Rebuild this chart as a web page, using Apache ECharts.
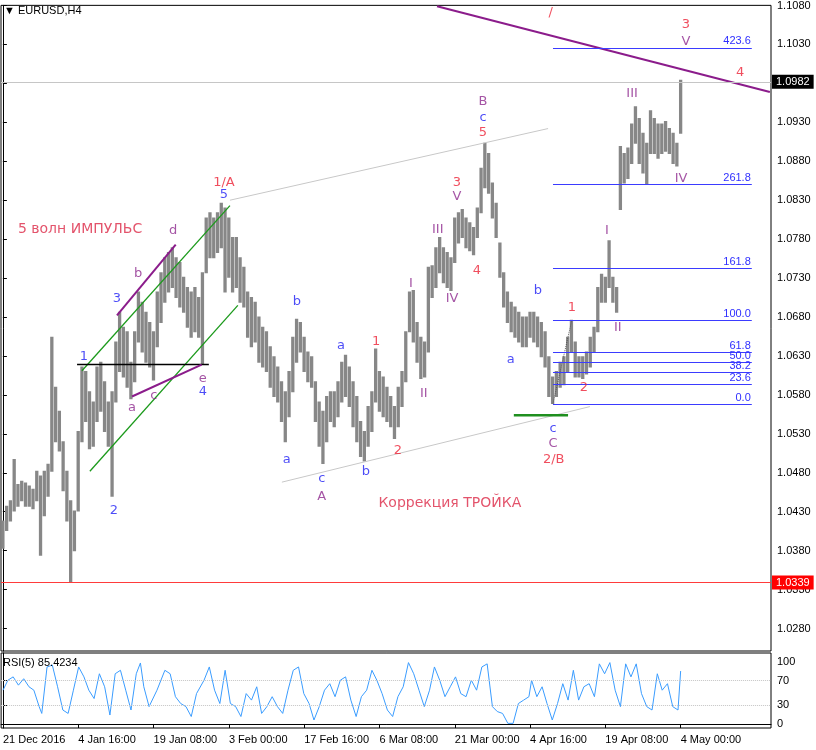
<!DOCTYPE html>
<html><head><meta charset="utf-8">
<script src="https://cdn.jsdelivr.net/npm/echarts@6/dist/echarts.min.js"></script>
<style>html,body{margin:0;padding:0;background:#fff}#c{width:816px;height:750px}</style>
</head><body><div id="c"></div>
<script>
// ---- price bars (H4, sampled), index = bar position ----
const barHigh=[1.0418,1.0437,1.0444,1.0497,1.0465,1.0469,1.0467,1.0463,1.0459,1.0482,
1.0476,1.0482,1.0491,1.0654,1.0590,1.0559,1.0520,1.0482,1.0444,1.0431,
1.0533,1.0616,1.0610,1.0584,1.0571,1.0616,1.0622,1.0597,1.0571,1.0584,
1.0648,1.0686,1.0667,1.0661,1.0622,1.0661,1.0712,1.0699,1.0686,1.0673,
1.0661,1.0712,1.0737,1.0756,1.0763,1.0769,1.0756,1.0750,1.0731,1.0718,
1.0712,1.0718,1.0705,1.0737,1.0807,1.0814,1.0807,1.0814,1.0826,1.0820,
1.0807,1.0782,1.0782,1.0756,1.0744,1.0712,1.0705,1.0699,1.0680,1.0667,
1.0661,1.0642,1.0629,1.0616,1.0597,1.0584,1.0610,1.0654,1.0677,1.0673,
1.0654,1.0635,1.0629,1.0597,1.0571,1.0559,1.0578,1.0584,1.0584,1.0597,
1.0622,1.0631,1.0616,1.0597,1.0578,1.0546,1.0533,1.0565,1.0584,1.0639,
1.0610,1.0603,1.0590,1.0578,1.0565,1.0590,1.0610,1.0661,1.0712,1.0714,
1.0673,1.0654,1.0648,1.0744,1.0746,1.0769,1.0782,1.0769,1.0763,1.0756,
1.0807,1.0814,1.0818,1.0807,1.0801,1.0795,1.0820,1.0871,1.0903,1.0890,
1.0852,1.0826,1.0775,1.0737,1.0712,1.0699,1.0693,1.0686,1.0680,1.0680,
1.0686,1.0686,1.0680,1.0673,1.0661,1.0629,1.0603,1.0610,1.0622,1.0629,
1.0654,1.0676,1.0648,1.0629,1.0629,1.0635,1.0654,1.0667,1.0718,1.0735,
1.0731,1.0778,1.0731,1.0718,1.0899,1.0890,1.0897,1.0928,1.0950,1.0935,
1.0916,1.0903,1.0945,1.0935,1.0928,1.0928,1.0931,1.0922,1.0916,1.0903,
1.0984];
const barLow=[1.0383,1.0406,1.0418,1.0431,1.0437,1.0444,1.0437,1.0437,1.0434,1.0444,
1.0374,1.0425,1.0450,1.0482,1.0520,1.0508,1.0457,1.0418,1.0339,1.0380,
1.0431,1.0520,1.0546,1.0511,1.0514,1.0546,1.0559,1.0533,1.0514,1.0450,
1.0571,1.0610,1.0603,1.0590,1.0575,1.0597,1.0648,1.0635,1.0622,1.0616,
1.0599,1.0642,1.0673,1.0699,1.0712,1.0718,1.0705,1.0693,1.0686,1.0667,
1.0654,1.0661,1.0654,1.0619,1.0737,1.0756,1.0756,1.0763,1.0769,1.0712,
1.0731,1.0712,1.0718,1.0699,1.0693,1.0654,1.0642,1.0648,1.0622,1.0616,
1.0610,1.0590,1.0578,1.0571,1.0546,1.0520,1.0552,1.0584,1.0622,1.0635,
1.0610,1.0597,1.0590,1.0546,1.0514,1.0492,1.0520,1.0546,1.0539,1.0552,
1.0571,1.0578,1.0565,1.0539,1.0520,1.0501,1.0495,1.0514,1.0533,1.0571,
1.0559,1.0552,1.0546,1.0539,1.0524,1.0539,1.0565,1.0597,1.0661,1.0648,
1.0622,1.0601,1.0603,1.0635,1.0705,1.0718,1.0737,1.0724,1.0718,1.0714,
1.0750,1.0775,1.0782,1.0769,1.0765,1.0760,1.0782,1.0814,1.0846,1.0839,
1.0807,1.0782,1.0731,1.0693,1.0673,1.0661,1.0654,1.0648,1.0642,1.0642,
1.0654,1.0648,1.0642,1.0629,1.0616,1.0578,1.0569,1.0578,1.0590,1.0593,
1.0610,1.0635,1.0603,1.0603,1.0601,1.0607,1.0616,1.0635,1.0661,1.0699,
1.0699,1.0718,1.0699,1.0686,1.0818,1.0852,1.0858,1.0877,1.0903,1.0877,
1.0865,1.0851,1.0890,1.0890,1.0884,1.0890,1.0893,1.0890,1.0877,1.0874,
1.0916];

// ---- axis ticks ----
const dateIdx=[0,20,40,60,80,100,120,140,160,180];
const dateLabels=['21 Dec 2016','4 Jan 16:00','19 Jan 08:00','3 Feb 00:00','17 Feb 16:00','6 Mar 08:00','21 Mar 00:00','4 Apr 16:00','19 Apr 08:00','4 May 00:00'];
const priceTicks=[1.1080,1.1030,1.0980,1.0930,1.0880,1.0830,1.0780,1.0730,1.0680,1.0630,1.0580,1.0530,1.0480,1.0430,1.0380,1.0330,1.0280];
const rsiTicks=[0,30,70,100];
const rsiLevels=[30,70];

// ---- RSI(5) ----
const rsiX=[0,1.3,2.7,4.1,5.5,6.9,8.2,9.6,10.3,11.7,13.1,14.5,15.9,17.3,18.7,20.1,21.5,22.8,24.2,25.6,
27,28.4,29.8,31.2,32.6,34,35.4,36.5,37.4,38.8,40.9,43,44.4,45.8,47.2,48.6,50,51.4,53.4,54.8,
56.2,57.6,59,60.4,61.8,63.2,64.6,66,67.4,68.7,70.1,71.5,72.9,74.3,75.7,77.1,78.5,79.9,81.3,82.6,
84,85.4,86.8,88.2,89.6,91,92.4,93.8,95.2,96.6,98,99.3,100.7,102.1,103.5,104.9,106.3,107.7,109.1,110.5,
111.9,113.3,114.6,116,117.4,118.8,120.2,121.6,123,124.4,125.8,127.2,128.6,130,131.3,132.7,134.1,135.5,136.9,138.3,
139.7,140.4,141.8,143.2,144.5,145.9,147.3,148.7,150.1,151.5,152.9,154.3,155.7,157.1,158.4,159.8,161.2,162.6,164,165.4,
166.8,168.2,169.6,171,172.4,173.8,175.1,176.5,177.9,179.3,180];
const rsiV=[54.5,70.6,76,62.6,73,60,54.5,28,17,92,95,60,22.5,17,54.5,92,76,54.5,41,81,
60,14.4,81,86.6,54.5,22.5,81,98.4,60,28,54.5,86.6,81,44,33,28,12,49,70.6,92,
54.5,33,86.6,33,28,12,49,38.5,60,17,28,44,28,17,54.5,86.6,92,49,33,6.4,
28,54.5,65,44,70.6,76,38.5,12,44,54.5,86.6,70.6,49,22.5,12,44,60,99,81,54.5,
28,54.5,92,70.6,44,60,76,49,44,70.6,54.5,92,97,28,20,17,1,1,33,38.5,
44,70.6,44,60,33,6.4,33,65,38.5,86.6,38.5,60,65,44,97,81,99,54.5,28,97,
76,97,49,28,22.5,81,54.5,65,28,22.5,85.4234];

// ---- levels ----
const lastPrice=1.0982;
const lowLevel=1.0339;
const fibLow=1.0568, fibHigh=1.0676;
const fibLevels=[0,23.6,38.2,50,61.8,100,161.8,261.8,423.6];
const fibSpan=[146.1,198.9];
const xRange=[-0.5,204];

// ---- drawn lines (bar index, price) ----
const purpleTrend=[[115.3,1.1079],[203.7,1.0969]];
const grayUpper=[[60.3,1.0830],[144.8,1.0922]];
const grayLower=[[74.1,1.0468],[155.9,1.0565]];
const greenUpper=[[21.0,1.0611],[60.3,1.0823]];
const greenLower=[[23.1,1.0482],[62.4,1.0695]];
const blackHoriz=[[19.7,1.0619],[54.7,1.0619]];
const purpleBD=[[30.3,1.0682],[45.9,1.0773]];
const purpleAE=[[34.3,1.0578],[52.8,1.0619]];
const greenBase=[[135.7,1.0554],[150.1,1.0554]];
const fibDotted=[[146.1,1.0569],[151.1,1.0676]];

// ---- wave labels (bar index, price, text) ----
const blueLabels=[[58.7,1.0837,'5'],[21.5,1.0629,'1'],[29.5,1.0432,'2'],[30.3,1.0704,'3'],[53.1,1.0584,'4'],
[78.1,1.0700,'b'],[75.4,1.0497,'a'],[84.7,1.0472,'c'],[89.8,1.0643,'a'],[96.4,1.0481,'b'],
[127.5,1.0936,'c'],[142.1,1.0714,'b'],[134.9,1.0625,'a'],[146.1,1.0537,'c']];
const purpleLabels=[[34.3,1.0564,'a'],[35.9,1.0736,'b'],[40.1,1.0579,'c'],[45.2,1.0791,'d'],[53.1,1.0601,'e'],
[84.7,1.0450,'A'],[108.4,1.0723,'I'],[111.8,1.0582,'II'],[115.5,1.0792,'III'],[119.3,1.0703,'IV'],
[120.6,1.0835,'V'],[127.5,1.0957,'B'],[146.1,1.0518,'C'],[160.4,1.0791,'I'],[163.3,1.0667,'II'],
[167.1,1.0967,'III'],[180.1,1.0858,'IV'],[181.4,1.1034,'V']];
const redLabels=[[58.7,1.0853,'1/A'],[99.1,1.0648,'1'],[104.9,1.0508,'2'],[120.6,1.0852,'3'],[125.9,1.0740,'4'],
[127.5,1.0917,'5'],[146.3,1.0497,'2/B'],[151.1,1.0692,'1'],[154.3,1.0589,'2'],[181.4,1.1055,'3'],
[195.8,1.0994,'4'],[145.5,1.1071,'/']];
const titleLabels=[[20.5,1.0793,'5 волн ИМПУЛЬС'],[118.7,1.0441,'Коррекция ТРОЙКА']];

const F='"Liberation Sans", Arial, sans-serif';
const FL='"DejaVu Sans", Verdana, sans-serif';
const BLUE='#1f1ff5', PURPLE='#8e2a8e', RED='#ec2236';

function seg(pts,color,width,type){
  return {type:'line',xAxisIndex:0,yAxisIndex:0,data:pts,showSymbol:false,symbol:'none',silent:true,
    lineStyle:{color:color,width:width,type:type||'solid'},z:3,clip:true};
}
function labels(arr,color,size){
  return {type:'scatter',xAxisIndex:0,yAxisIndex:0,data:arr,symbolSize:1,silent:true,z:5,
    itemStyle:{color:'rgba(0,0,0,0)'},
    label:{show:true,position:'inside',formatter:p=>p.data[2],color:color,fontSize:size,fontFamily:FL}};
}
function hLine(v,color,bg){
  return [{coord:[xRange[0],v],lineStyle:{color:color,width:1,type:'solid'},
    label:{show:true,position:'end',formatter:v.toFixed(4),backgroundColor:bg,color:'#fff',
      padding:[2,4,1,4],distance:1,fontSize:11,fontFamily:F}},{coord:[xRange[1],v]}];
}

const fibMarks=fibLevels.map(l=>{
  const p=fibLow+(fibHigh-fibLow)*l/100;
  return [{coord:[fibSpan[0],p],lineStyle:{color:'#3b3bff',width:1,type:'solid'},
    label:{show:true,position:'insideEndTop',formatter:l.toFixed(1),color:'#2f2fff',fontSize:11,fontFamily:F,distance:1}},
    {coord:[fibSpan[1],p]}];
});

const chart=echarts.init(document.getElementById('c'));
chart.setOption({
  animation:false,
  textStyle:{fontFamily:F},
  grid:[{left:1,top:1,width:770,height:650,show:true,borderColor:'#000',borderWidth:1},
        {left:1,top:653,width:770,height:75,show:true,borderColor:'#000',borderWidth:1}],
  xAxis:[
    {type:'value',gridIndex:0,min:xRange[0],max:xRange[1],show:false},
    {type:'value',gridIndex:1,min:xRange[0],max:xRange[1],position:'bottom',
      axisLine:{show:true,lineStyle:{color:'#000'}},
      axisTick:{show:true,customValues:dateIdx,length:4,lineStyle:{color:'#000'}},
      splitLine:{show:false},
      axisLabel:{customValues:dateIdx,formatter:v=>dateLabels[dateIdx.indexOf(Math.round(v))]||'',
        align:'left',color:'#000',fontSize:11,fontFamily:F,margin:6}}
  ],
  yAxis:[
    {type:'value',gridIndex:0,position:'right',min:1.02512,max:1.10802,
      axisLine:{show:true,lineStyle:{color:'#000'}},
      axisTick:{show:true,customValues:priceTicks,length:4,lineStyle:{color:'#000'}},
      splitLine:{show:false},
      axisLabel:{customValues:priceTicks,formatter:v=>v.toFixed(4),color:'#000',fontSize:11,fontFamily:F,margin:6}},
    {type:'value',gridIndex:1,position:'right',min:-6.5,max:114.5,
      axisLine:{show:true,lineStyle:{color:'#000'}},
      axisTick:{show:true,customValues:rsiTicks,length:4,lineStyle:{color:'#000'}},
      splitLine:{show:false},
      axisLabel:{customValues:rsiTicks,formatter:v=>String(v),color:'#000',fontSize:11,fontFamily:F,margin:6}}
  ],
  graphic:[
    {type:'text',left:4,top:5,style:{text:'▼ EURUSD,H4',fill:'#000',font:'11px "Liberation Sans", Arial'},z:10},
    {type:'text',left:3,top:657,style:{text:'RSI(5) 85.4234',fill:'#000',font:'11px "Liberation Sans", Arial'},z:10}
  ],
  series:[
    {type:'custom',name:'EURUSD',xAxisIndex:0,yAxisIndex:0,clip:true,z:2,
      data:barHigh.map((h,i)=>[i,barLow[i],h]),
      encode:{x:0,y:[1,2]},
      renderItem:(params,api)=>{
        const x=api.value(0);
        const a=api.coord([x,api.value(2)]), b=api.coord([x,api.value(1)]);
        return {type:'line',shape:{x1:a[0],y1:a[1]-0.5,x2:b[0],y2:b[1]+0.5},
          style:{stroke:'#878787',lineWidth:3.3}};
      },
      markLine:{symbol:'none',silent:true,animation:false,z:4,
        data:[hLine(lastPrice,'#c6c6c6','#000'),hLine(lowLevel,'#ff3b3b','#ff0000')].concat(fibMarks)}
    },
    seg(grayUpper,'#c8c8c8',1),
    seg(grayLower,'#c8c8c8',1),
    seg(purpleTrend,'#8b1c8b',2),
    seg(greenUpper,'#1c9a1c',1.3),
    seg(greenLower,'#1c9a1c',1.3),
    seg(blackHoriz,'#000',1.6),
    seg(purpleBD,'#8b1c8b',2),
    seg(purpleAE,'#8b1c8b',2),
    seg(greenBase,'#1f8f1f',2.5),
    seg(fibDotted,'#555',1,'dotted'),
    labels(blueLabels,BLUE,13),
    labels(purpleLabels,PURPLE,13),
    labels(redLabels,RED,13),
    labels(titleLabels,'#dc2846',14),
    {type:'line',name:'RSI',xAxisIndex:1,yAxisIndex:1,showSymbol:false,symbol:'none',silent:true,
      data:rsiX.map((x,i)=>[x,rsiV[i]]),lineStyle:{color:'#3a9cff',width:1},z:3,
      markLine:{symbol:'none',silent:true,label:{show:false},
        lineStyle:{color:'#c4c4c4',type:'dotted',width:1},
        data:rsiLevels.map(v=>({yAxis:v}))}}
  ]
});
</script></body></html>
